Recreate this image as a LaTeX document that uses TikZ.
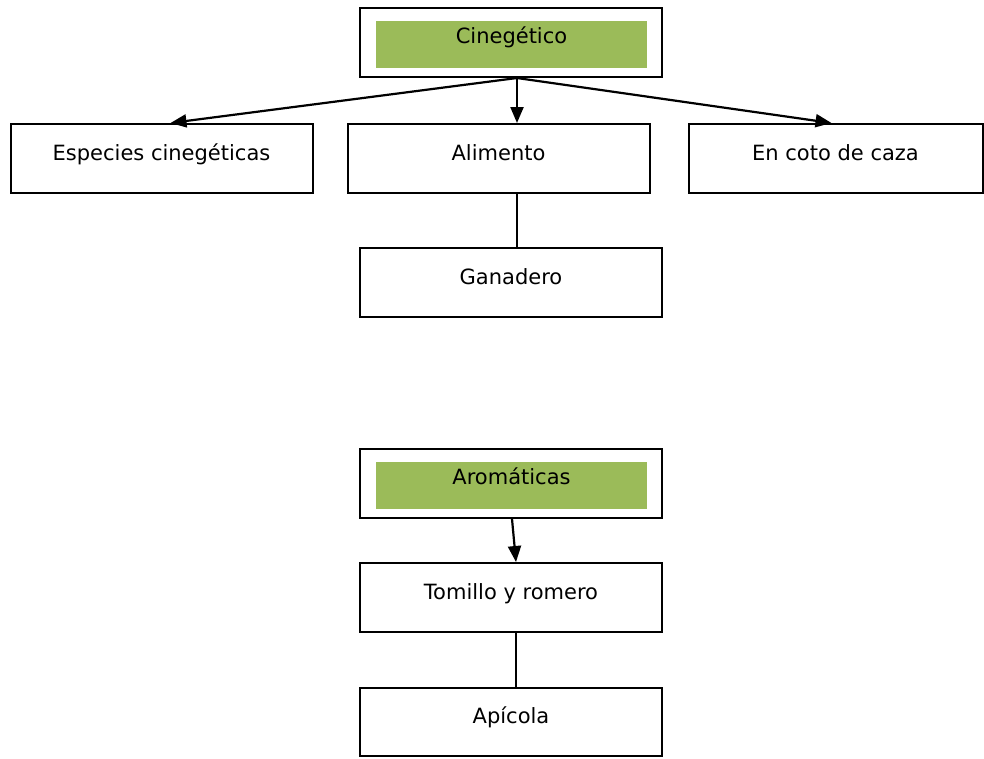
\documentclass[tikz,border=0pt]{standalone}
\usepackage{fontspec}
\setmainfont{DejaVu Sans}
\usetikzlibrary{arrows.meta,calc}
\definecolor{verde}{RGB}{155,187,89}

\begin{document}
\begin{tikzpicture}[x=1pt,y=-1pt,
		caja/.style={draw,line width=2pt,minimum width=302pt,minimum height=69pt,inner sep=0pt,
			font=\fontsize{21}{25}\selectfont,text height=15pt,text depth=12pt},
		titulo/.style={fill=verde,minimum width=271pt,minimum height=47pt,inner sep=0pt,
			font=\fontsize{21}{25}\selectfont,text height=12pt,text depth=14pt},
		flecha/.style={-{Triangle[length=16pt,width=13pt]},line width=2.2pt},
		linea/.style={line width=2pt}]
	\useasboundingbox (0,0) rectangle (984,758);
	\node[caja] (cineg) at (511,42.5) {};
	\node[titulo] (cinegtxt) at (511.5,44.5) {Cinegético};
	\node[caja] (especies) at (161.5,158.5) {Especies cinegéticas};
	\node[caja] (alimento) at (498.5,158.5) {Alimento};
	\node[caja,minimum width=294pt] (coto) at (835.5,158.5) {En coto de caza};
	\node[caja] (ganadero) at (511,282.5) {Ganadero};
	\node[caja] (arom) at (511,483.5) {};
	\node[titulo] (aromtxt) at (511.5,485.5) {Aromáticas};
	\node[caja] (tomillo) at (511,597.5) {Tomillo y romero};
	\node[caja,minimum height=68pt] (apicola) at (511,722) {Apícola};
	\coordinate (hub) at (517,78);
	\draw[flecha] (hub) -- ($(especies.north)+(9,0)$);
	\draw[flecha] (hub) -- (alimento.north -| hub);
	\draw[flecha] (hub) -- ($(coto.north)+(-4,0)$);
	\draw[linea] (alimento.south -| hub) -- (ganadero.north -| hub);
	\draw[flecha] ($(arom.south)+(1,0)$) -- ($(tomillo.north)+(5,0)$);
	\draw[linea] ($(tomillo.south)+(5,0)$) -- ($(apicola.north)+(5,0)$);
\end{tikzpicture}
\end{document}
